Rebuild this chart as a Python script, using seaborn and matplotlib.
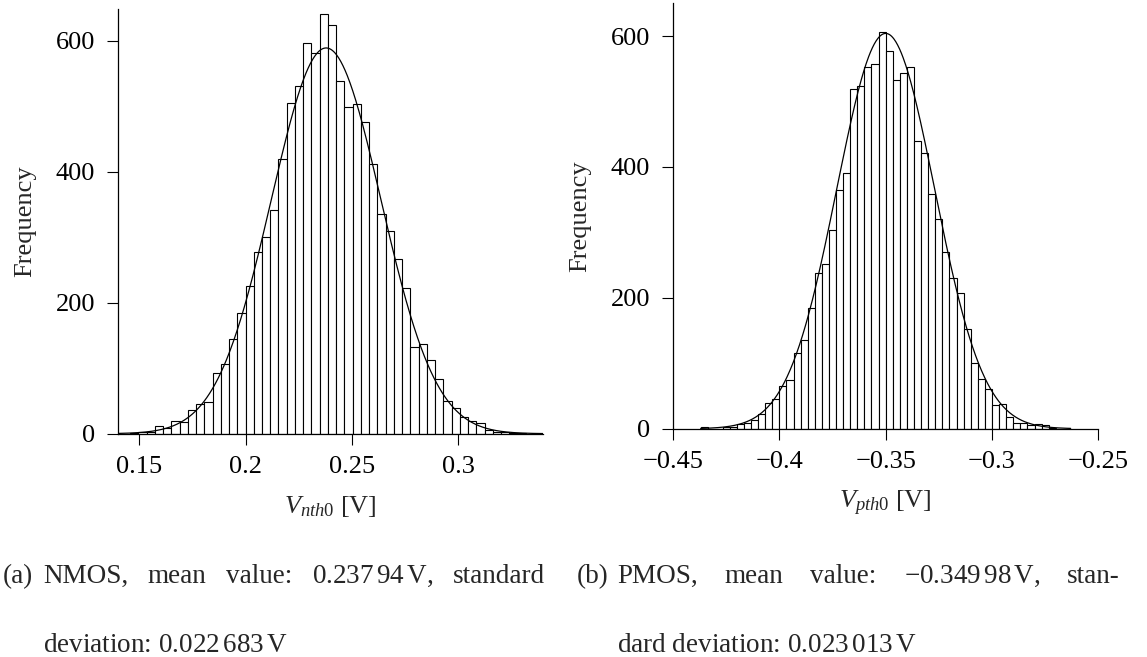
import numpy as np
import pandas as pd
import matplotlib
matplotlib.use("Agg")
import matplotlib.pyplot as plt
import seaborn as sns

# ---------------- data ----------------
# NMOS histogram: counts per bin, bins of equal width starting at nmos_first_edge
nmos_first_edge = 0.14568
nmos_bin_width = 0.00388
nmos_counts = [1, 2, 3, 11, 9, 20, 18, 36, 45, 48, 92, 107, 144, 185,
               225, 278, 301, 342, 420, 505, 531, 597, 582, 641, 624, 539, 499,
               503, 476, 412, 336, 310, 266, 222, 133, 137, 113, 84, 50, 40,
               25, 19, 17, 6, 3, 2, 1, 1]
# fitted normal curve as drawn (centre, width on the plotted axis, peak height)
nmos_fit_center = 0.23794
nmos_fit_width = 0.0258
nmos_fit_peak = 589

# PMOS histogram
pmos_first_edge = -0.4 - 11 / 300
pmos_bin_width = 1 / 300
pmos_counts = [3, 0, 0, 2, 3, 7, 8, 14, 22, 39, 46,
               66, 74, 115, 135, 185, 238, 251, 304, 364, 390,
               519, 524, 552, 557, 606, 577, 533, 543, 553,
               440, 421, 359, 320, 270, 231, 208, 152, 100, 76,
               61, 36, 38, 18, 8, 9, 6, 7, 5, 1]
pmos_fit_center = -0.34998
pmos_fit_width = 0.023013
pmos_fit_peak = 604

nmos_xticks = [0.15, 0.2, 0.25, 0.3]
nmos_xticklabels = ["0.15", "0.2", "0.25", "0.3"]
pmos_xticks = [-0.45, -0.4, -0.35, -0.3, -0.25]
pmos_xticklabels = ["\u22120.45", "\u22120.4", "\u22120.35", "\u22120.3", "\u22120.25"]
yticks = [0, 200, 400, 600]

caption_a1 = ["NMOS,", "mean", "value:", r"$\mathrm{0.237\,94\,V}$,", "standard"]
caption_a2 = r"deviation: $\mathrm{0.022\,683\,V}$"
caption_b1 = ["PMOS,", "mean", "value:", "\u2212" + r"$\mathrm{0.349\,98\,V}$,", "stan-"]
caption_b2 = r"dard deviation: $\mathrm{0.023\,013\,V}$"

# ---------------- style ----------------
sns.set_style("ticks")
plt.rcParams["font.family"] = ["Liberation Serif", "DejaVu Serif"]
plt.rcParams["mathtext.fontset"] = "custom"
plt.rcParams["mathtext.rm"] = "Liberation Serif"
plt.rcParams["mathtext.it"] = "Liberation Serif:italic"
plt.rcParams["axes.unicode_minus"] = True

W, H = 1147, 657
fig = plt.figure(figsize=(W / 100, H / 100), dpi=100)

def px_axes(x0, y_top, x1, y_bot):
    return fig.add_axes([x0 / W, 1 - y_bot / H, (x1 - x0) / W, (y_bot - y_top) / H])

ax1 = px_axes(118, 9.3, 543, 433.7)
ax2 = px_axes(673, 3.3, 1098.3, 428.7)

FS = 19

def draw_panel(ax, first_edge, width, counts, center, spread, peak, xlim, ylim_top,
               xticks, xticklabels, xlabel, curve_range):
    counts = np.asarray(counts, dtype=float)
    n = len(counts)
    last_edge = first_edge + width * n
    centers = first_edge + width * (np.arange(n) + 0.5)
    df = pd.DataFrame({"x": centers, "w": counts})
    sns.histplot(data=df, x="x", weights="w", bins=n,
                 binrange=(first_edge, last_edge), stat="count",
                 color="white", edgecolor="black", linewidth=0.8, alpha=1.0,
                 ax=ax)
    xs = np.linspace(curve_range[0], curve_range[1], 600)
    fit = pd.DataFrame({"x": xs,
                        "y": peak * np.exp(-0.5 * ((xs - center) / spread) ** 2)})
    sns.lineplot(data=fit, x="x", y="y", color="black", linewidth=0.9, ax=ax)
    ax.set_xlim(*xlim)
    ax.set_ylim(0, ylim_top)
    ax.set_xticks(xticks)
    ax.set_xticklabels(xticklabels)
    ax.set_yticks(yticks)
    ax.set_yticklabels([str(v) for v in yticks])
    ax.tick_params(axis="both", direction="out", length=7.8, width=0.8,
                   labelsize=FS, colors="black", pad=8.5)
    ax.set_xlabel(xlabel, fontsize=FS, labelpad=11.5)
    ax.set_ylabel("Frequency", fontsize=FS, labelpad=14)
    sns.despine(ax=ax)
    for s in ("left", "bottom"):
        ax.spines[s].set_linewidth(0.9)
        ax.spines[s].set_color("black")

draw_panel(ax1, nmos_first_edge, nmos_bin_width, nmos_counts, nmos_fit_center,
           nmos_fit_width, nmos_fit_peak, (0.14, 0.34), 648, nmos_xticks,
           nmos_xticklabels, r"$V_{nth\mathrm{0}}$ [V]", (0.14, 0.34))
draw_panel(ax2, pmos_first_edge, pmos_bin_width, pmos_counts, pmos_fit_center,
           pmos_fit_width, pmos_fit_peak, (-0.45, -0.25), 650, pmos_xticks,
           pmos_xticklabels, r"$V_{pth\mathrm{0}}$ [V]", (-0.437, -0.263))

# ---------------- captions (justified like the typeset original) ----------------
CAP = 19.5
fig.canvas.draw()
renderer = fig.canvas.get_renderer()

def put(s, x, y):
    return fig.text(x / W, 1 - y / H, s, fontsize=CAP, ha="left", va="baseline")

def justify(words, x0, x1, y):
    texts = [put(w, x0, y) for w in words]
    widths = [t.get_window_extent(renderer).width for t in texts]
    gap = (x1 - x0 - sum(widths)) / (len(words) - 1)
    x = x0
    for t, w in zip(texts, widths):
        t.set_x(x / W)
        x += w + gap

put("(a)", 3, 583)
justify(caption_a1, 43, 545, 583)
put(caption_a2, 43, 652)
put("(b)", 577, 583)
justify(caption_b1, 617, 1120, 583)
put(caption_b2, 617, 652)

fig.savefig("out.png", dpi=100)
